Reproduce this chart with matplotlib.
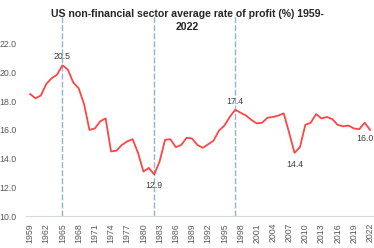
import numpy as np
import matplotlib.pyplot as plt

years = list(range(1959, 2023))
profit_rate = [
  18.5, 18.2, 18.4, 19.2, 19.6, 19.85, 20.5, 20.2, 19.3, 18.9,
  17.8, 16.0, 16.1, 16.6, 16.8, 14.5, 14.55, 14.95, 15.2, 15.35,
  14.4, 13.1, 13.35, 12.9, 13.8, 15.3, 15.35, 14.8, 14.95, 15.45,
  15.4, 14.95, 14.75, 15.0, 15.25, 15.95, 16.3, 16.9, 17.4, 17.2,
  17.0, 16.7, 16.45, 16.5, 16.85, 16.9, 17.0, 17.15, 15.8, 14.4,
  14.8, 16.35, 16.5, 17.1, 16.8, 16.9, 16.75, 16.35, 16.25, 16.3,
  16.1, 16.05, 16.5, 16.0,
]
marked_years = [1965, 1982, 1997]
labels_above = {1965: "20.5", 1997: "17.4"}
labels_below = {1982: "12.9", 2008: "14.4"}
last_label = "16.0"

plt.rcParams['font.family'] = ['Liberation Sans', 'DejaVu Sans']

fig = plt.figure(figsize=(3.74, 2.48), dpi=100)
ax = fig.add_axes([0.066, 0.129, 0.938, 0.871])

ax.plot(years, profit_rate, color="#ff4545", lw=1.3, zorder=3)
ax.vlines(marked_years, 10, 24.1, colors="#8fb6d0", lw=1.0,
          linestyles=(0, (4.3, 1.5)), zorder=2)

txt = dict(fontsize=6.3, color="#404040")
for yr, s in labels_above.items():
  v = profit_rate[years.index(yr)]
  ax.annotate(s, (yr, v), xytext=(0, 3), textcoords="offset points",
              ha="center", va="bottom", **txt)
for yr, s in labels_below.items():
  v = profit_rate[years.index(yr)]
  ax.annotate(s, (yr, v), xytext=(0, -5), textcoords="offset points",
              ha="center", va="top", **txt)
ax.annotate(last_label, (years[-1], profit_rate[-1]), xytext=(-4, -3),
            textcoords="offset points", ha="center", va="top", **txt)

ax.set_xlim(1958, 2023)
ax.set_ylim(10, 25.05)
ax.set_yticks(np.arange(10, 23, 2))
ax.set_yticklabels([f"{t:.1f}" for t in np.arange(10, 23, 2)])
ax.set_xticks(years[::3])
ax.set_xticklabels([str(y) for y in years[::3]], rotation=90)
ax.tick_params(axis="both", length=0, labelsize=6.3, labelcolor="#595959")
ax.tick_params(axis="y", pad=6)
ax.tick_params(axis="x", pad=5)

for s in ["top", "right", "left"]:
  ax.spines[s].set_visible(False)
ax.spines["bottom"].set_color("#d9d9d9")
ax.spines["bottom"].set_bounds(1958.3, 2023)

fig.text(0.5, 0.918, "US non-financial sector average rate of profit (%) 1959-\n2022",
         ha="center", va="center", fontsize=7.6, fontweight="bold",
         color="#262626", linespacing=1.3)

fig.savefig("out.png", dpi=100)
